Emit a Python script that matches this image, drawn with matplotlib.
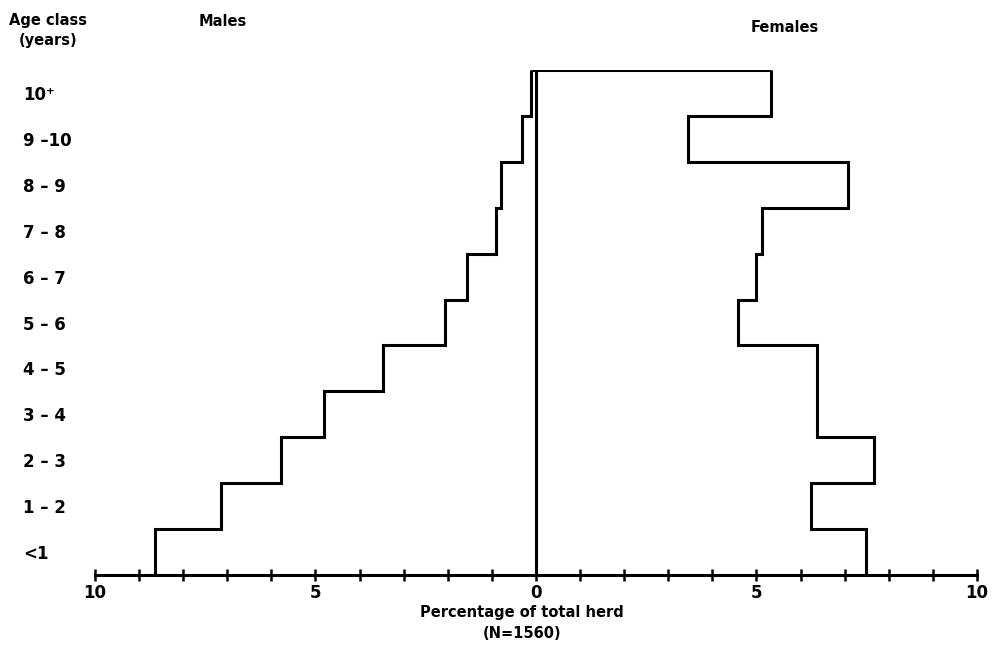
import numpy as np
import matplotlib
matplotlib.use('Agg')
import matplotlib.pyplot as plt
from matplotlib.ticker import MultipleLocator, FuncFormatter

plt.rcParams['font.family'] = ['DejaVu Sans']
plt.rcParams['font.weight'] = 'bold'

# age classes from youngest (bottom) to oldest (top)
age_labels = ['<1', '1 – 2', '2 – 3', '3 – 4', '4 – 5', '5 – 6',
              '6 – 7', '7 – 8', '8 – 9', '9 –10', '10⁺']
# percentage of total herd
males = [8.64, 7.14, 5.79, 4.80, 3.47, 2.06, 1.57, 0.90, 0.80, 0.32, 0.11]
females = [7.49, 6.23, 7.67, 6.38, 6.38, 4.58, 5.00, 5.12, 7.08, 3.45, 5.33]

lw = 2.2
n = len(age_labels)
edges = np.arange(n + 1)

fig = plt.figure(figsize=(9.95, 6.48), dpi=100)
ax = fig.add_axes([95 / 995, 73 / 648, 882 / 995, 505 / 648])

ax.stairs(-np.array(males), edges, orientation='horizontal', baseline=None,
          color='black', lw=lw)
ax.stairs(np.array(females), edges, orientation='horizontal', baseline=None,
          color='black', lw=lw)
ax.hlines(n, -males[-1], females[-1], color='black', lw=lw)
ax.vlines(0, 0, n, color='black', lw=lw)

ax.set_xlim(-10, 10)
ax.set_ylim(0, n)

for s in ['top', 'right', 'left']:
    ax.spines[s].set_visible(False)
ax.spines['bottom'].set_linewidth(lw)

ax.xaxis.set_major_locator(MultipleLocator(5))
ax.xaxis.set_minor_locator(MultipleLocator(1))
ax.xaxis.set_major_formatter(FuncFormatter(lambda v, p: f'{abs(v):.0f}'))
ax.tick_params(axis='x', which='both', direction='inout', length=9, width=1.8,
               labelsize=12, pad=2)

ax.set_yticks(edges[:-1] + 0.5)
ax.set_yticklabels(age_labels, fontsize=12, ha='left')
ax.tick_params(axis='y', length=0, pad=52)

fig.text(48 / 995, 1 - 20 / 648, 'Age class', ha='center', va='center', fontsize=10.5)
fig.text(48 / 995, 1 - 41 / 648, '(years)', ha='center', va='center', fontsize=10.5)
fig.text(223 / 995, 1 - 21 / 648, 'Males', ha='center', va='center', fontsize=10.5)
fig.text(785 / 995, 1 - 27 / 648, 'Females', ha='center', va='center', fontsize=10.5)
fig.text(522 / 995, 1 - 612 / 648, 'Percentage of total herd', ha='center',
         va='center', fontsize=10.5)
fig.text(522 / 995, 1 - 633 / 648, '(N=1560)', ha='center', va='center', fontsize=10.5)

fig.savefig('out.png', dpi=100, facecolor='white')
